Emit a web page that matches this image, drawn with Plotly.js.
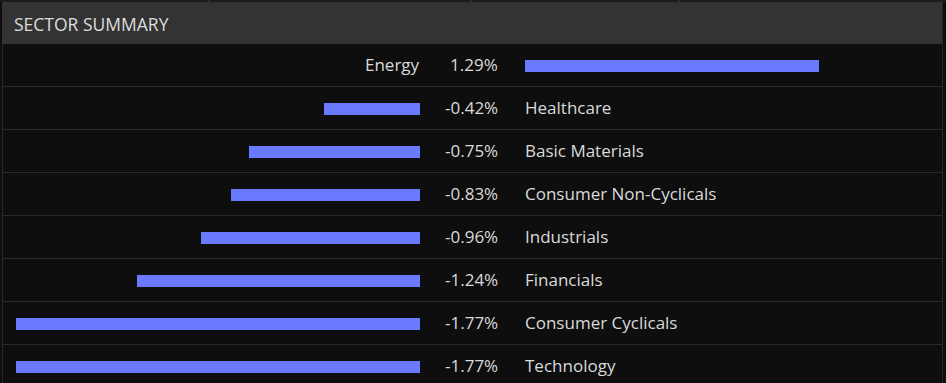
<!DOCTYPE html>
<html><head><meta charset="utf-8">
<script src="https://cdn.plot.ly/plotly-3.0.1.min.js"></script>
<style>html,body{margin:0;padding:0;background:#0e0e0e;}#chart{width:946px;height:383px;}</style>
</head><body><div id="chart"></div>
<script>
const sectors = ["Energy","Healthcare","Basic Materials","Consumer Non-Cyclicals","Industrials","Financials","Consumer Cyclicals","Technology"];
const changes = [1.29,-0.42,-0.75,-0.83,-0.96,-1.24,-1.77,-1.77];
const valueLabels = ["1.29%","-0.42%","-0.75%","-0.83%","-0.96%","-1.24%","-1.77%","-1.77%"];
const title = "SECTOR SUMMARY";

const W = 946, H = 383;
const pxPerPct = 228;
const zeroNeg = 420, zeroPos = 525;
const rowTop = 44, rowH = 43, rowCenter0 = 66;
const barColor = "#6a7aff";
const textColor = "#dadada";
const font = "Open Sans, Lato, sans-serif";
const fs = 17;

const neg = sectors.map((s,i)=>changes[i] < 0 ? changes[i] : null);
const pos = sectors.map((s,i)=>changes[i] > 0 ? changes[i] : null);

const yRange = [(H - rowCenter0)/rowH, -rowCenter0/rowH];

const traces = [
  {type:"bar", orientation:"h", y:sectors, x:neg, xaxis:"x", yaxis:"y",
   marker:{color:barColor}, width:12/rowH, hoverinfo:"skip"},
  {type:"bar", orientation:"h", y:sectors, x:pos, xaxis:"x2", yaxis:"y",
   marker:{color:barColor}, width:12/rowH, hoverinfo:"skip"}
];

const shapes = [
  {type:"rect", xref:"paper", yref:"paper", x0:0, x1:1, y0:1-2/H, y1:1, fillcolor:"#1c1c1c", line:{width:0}, layer:"below"},
  {type:"rect", xref:"paper", yref:"paper", x0:2/W, x1:943/W, y0:1-rowTop/H, y1:1-2/H, fillcolor:"#333333", line:{width:0}, layer:"below"},
  {type:"line", xref:"paper", yref:"paper", x0:2.5/W, x1:2.5/W, y0:0, y1:1-rowTop/H, line:{color:"#262626", width:1}},
  {type:"line", xref:"paper", yref:"paper", x0:942.5/W, x1:942.5/W, y0:0, y1:1-2/H, line:{color:"#262626", width:1}}
];
[208, 471, 679].forEach(x=>shapes.push({type:"line", xref:"paper", yref:"paper", x0:(x+0.5)/W, x1:(x+0.5)/W, y0:1-2/H, y1:1, line:{color:"#333333", width:1}}));
for (let i=1;i<sectors.length;i++){
  const y = rowTop + rowH*i - 0.5;
  shapes.push({type:"line", xref:"paper", yref:"paper", x0:3/W, x1:942/W, y0:1-y/H, y1:1-y/H, line:{color:"#2a2a2a", width:1}});
}

const annotations = [
  {text:title, xref:"paper", yref:"paper", x:12/W, y:1-23/H, yshift:-1, xanchor:"left", yanchor:"middle", showarrow:false,
   font:{family:font, size:17.5, color:"#dcdcdc"}}
];
sectors.forEach((s,i)=>{
  const positive = changes[i] > 0;
  annotations.push({text:s, xref:"paper", yref:"y", y:s, yshift:2,
    x: positive ? (zeroNeg+2)/W : (zeroPos-2)/W, xanchor: positive ? "right" : "left", yanchor:"middle",
    showarrow:false, font:{family:font, size:fs, color:textColor}});
  annotations.push({text:valueLabels[i], xref:"paper", yref:"y", y:s, yshift:2,
    x:500/W, xanchor:"right", yanchor:"middle",
    showarrow:false, font:{family:font, size:fs, color:textColor}});
});

const layout = {
  width:W, height:H, margin:{l:0,r:0,t:0,b:0},
  paper_bgcolor:"#0e0e0e", plot_bgcolor:"rgba(0,0,0,0)",
  showlegend:false, bargap:0,
  xaxis:{domain:[0, zeroNeg/W], range:[-zeroNeg/pxPerPct, 0], visible:false, fixedrange:true},
  xaxis2:{domain:[zeroPos/W, 1], range:[0, (W-zeroPos)/pxPerPct], visible:false, fixedrange:true, anchor:"y"},
  yaxis:{type:"category", range:yRange, visible:false, fixedrange:true},
  shapes:shapes, annotations:annotations
};
Plotly.newPlot("chart", traces, layout, {staticPlot:true, displayModeBar:false});
</script></body></html>
